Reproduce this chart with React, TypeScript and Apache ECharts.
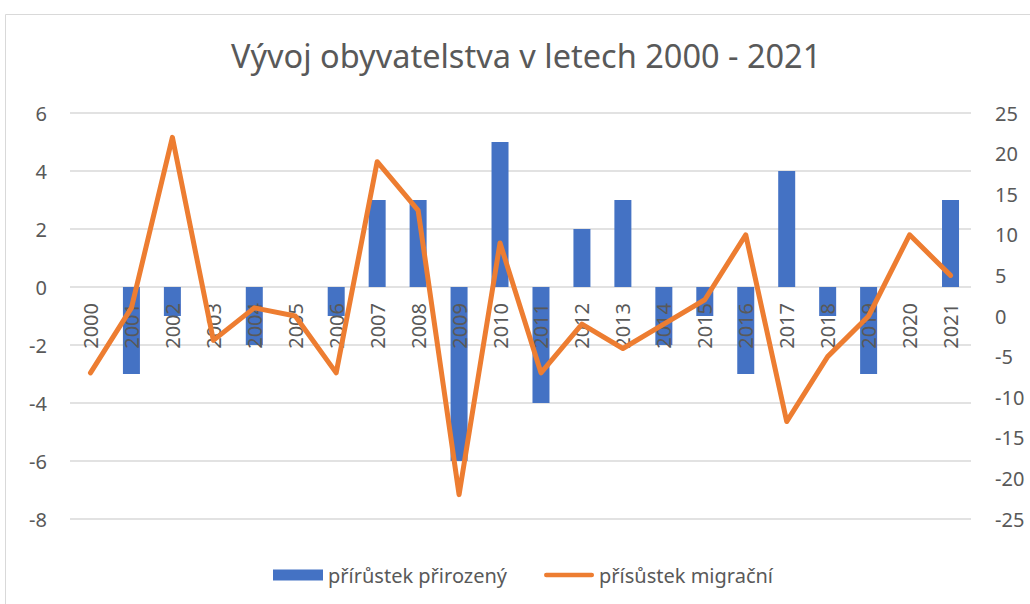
import React, { useEffect, useRef } from "react";
import * as echarts from "echarts";

const years = ["2000","2001","2002","2003","2004","2005","2006","2007","2008","2009","2010","2011","2012","2013","2014","2015","2016","2017","2018","2019","2020","2021"];
const natural = [0, -3, -1, 0, -2, 0, -1, 3, 3, -6, 5, -4, 2, 3, -2, -1, -3, 4, -1, -3, 0, 3];
const migration = [-7, 1, 22, -3, 1, 0, -7, 19, 13, -22, 9, -7, -1, -4, -1, 2, 10, -13, -5, 0, 10, 5];
const titleText = "Vývoj obyvatelstva v letech 2000 - 2021";
const seriesNames = ["přírůstek přirozený", "přísůstek migrační"];

const FONT = "'Noto Sans', 'Open Sans', sans-serif";
const TEXT = "#595959";

export default function App() {
  const ref = useRef<HTMLDivElement>(null);
  useEffect(() => {
    if (!ref.current) return;
    const chart = echarts.init(ref.current, undefined, { renderer: "svg" });
    chart.setOption({
      animation: false,
      backgroundColor: "#ffffff",
      textStyle: { fontFamily: FONT, color: TEXT },
      title: {
        text: titleText,
        left: 226,
        top: 34,
        textStyle: { fontFamily: FONT, fontSize: 32.5, fontWeight: "normal", color: TEXT },
      },
      graphic: [
        {
          type: "rect",
          shape: { x: 5.5, y: 14.5, width: 1040, height: 600 },
          style: { fill: "none", stroke: "#D9D9D9", lineWidth: 1 },
          silent: true,
          z: -1,
        },
      ],
      legend: {
        left: 268,
        top: 560,
        itemWidth: 50,
        itemHeight: 11,
        itemGap: 37,
        textStyle: { fontFamily: FONT, fontSize: 20, color: TEXT },
        data: [
          { name: seriesNames[0], icon: "rect" },
          {
            name: seriesNames[1],
            icon: "path://M2.5,0 H52.5 A2.5,2.5 0 0 1 52.5,5 H2.5 A2.5,2.5 0 0 1 2.5,0 Z",
          },
        ],
      },
      grid: { left: 70, right: 59, top: 113, bottom: 85, containLabel: false },
      xAxis: {
        type: "category",
        data: years,
        z: 3,
        axisLine: { show: false, onZero: false },
        axisTick: { show: false },
        axisLabel: { rotate: 90, margin: -216, fontSize: 20, color: TEXT, fontFamily: FONT, interval: 0, hideOverlap: false },
        splitLine: { show: false },
      },
      yAxis: [
        {
          type: "value",
          min: -8,
          max: 6,
          interval: 2,
          axisLine: { show: false, onZero: false },
          axisTick: { show: false },
          axisLabel: { margin: 23, fontSize: 20, color: TEXT, fontFamily: FONT },
          splitLine: { show: true, lineStyle: { color: "#D9D9D9", width: 1.5 } },
        },
        {
          type: "value",
          min: -25,
          max: 25,
          interval: 5,
          position: "right",
          axisLine: { show: false, onZero: false },
          axisTick: { show: false },
          axisLabel: { margin: 24, fontSize: 20, color: TEXT, fontFamily: FONT },
          splitLine: { show: false },
        },
      ],
      series: [
        {
          name: seriesNames[0],
          type: "bar",
          yAxisIndex: 0,
          data: natural,
          barWidth: 17,
          z: 2,
          itemStyle: { color: "#4472C4" },
        },
        {
          name: seriesNames[1],
          type: "line",
          yAxisIndex: 1,
          data: migration,
          symbol: "none",
          showSymbol: false,
          z: 5,
          lineStyle: { color: "#ED7D31", width: 5, cap: "round", join: "round" },
          itemStyle: { color: "#ED7D31" },
        },
      ],
    });
    return () => chart.dispose();
  }, []);
  return (
    <div
      ref={ref}
      style={{ position: "fixed", left: 0, top: 0, width: 1030, height: 604, background: "#fff" }}
    />
  );
}
